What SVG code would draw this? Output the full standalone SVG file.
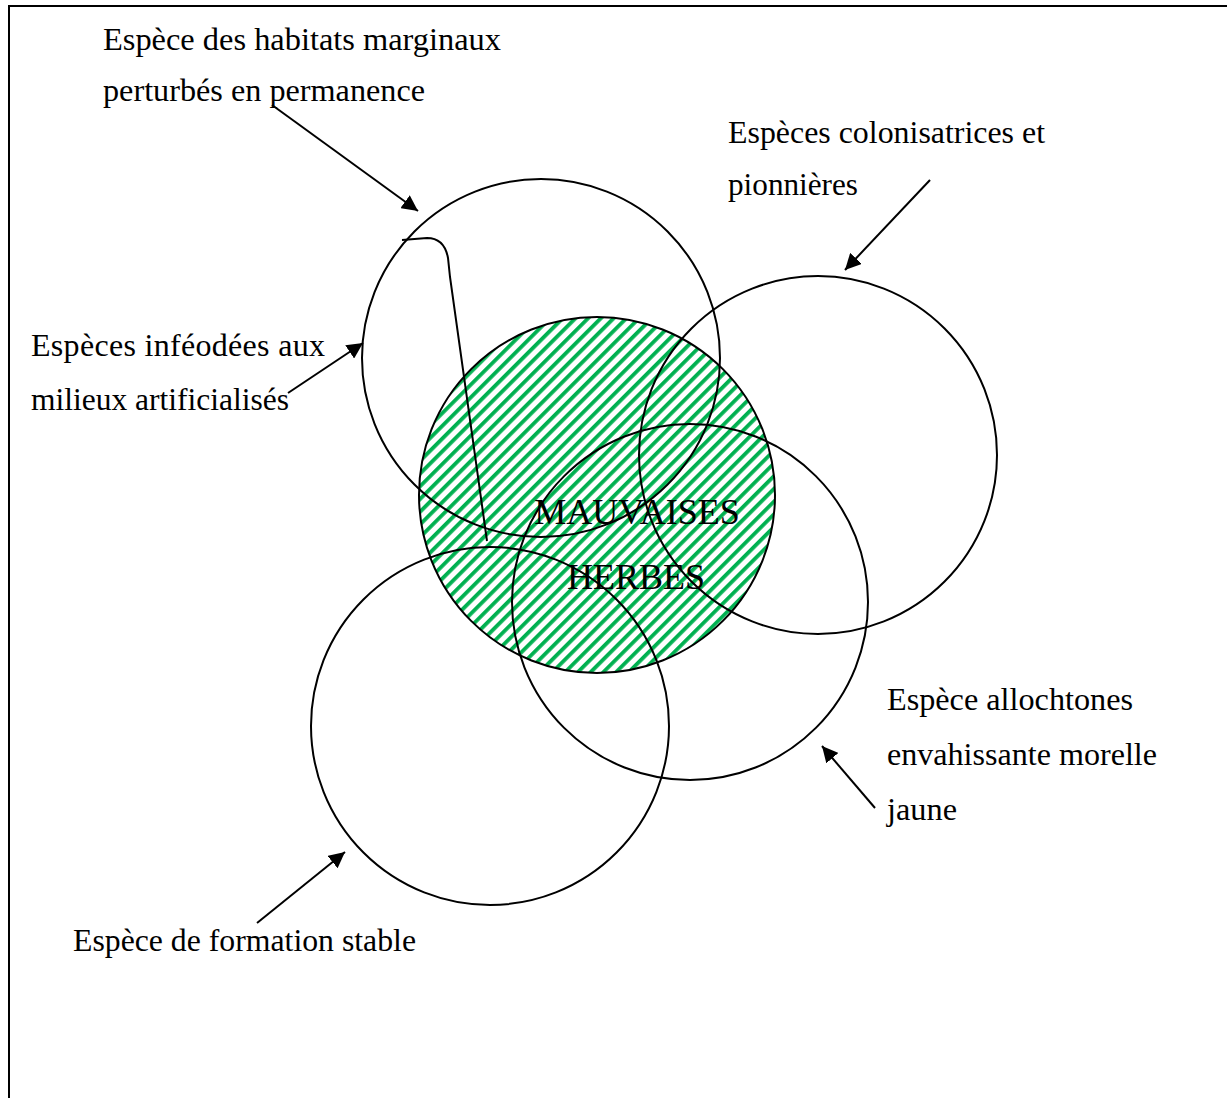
<svg xmlns="http://www.w3.org/2000/svg" width="1227" height="1098" viewBox="0 0 1227 1098">
<style>
.lbl{font-family:"Liberation Serif","Times New Roman",serif;font-size:32px;fill:#000}
.big{font-family:"Liberation Serif","Times New Roman",serif;font-size:36px;fill:#000}
.ring{fill:none;stroke:#000;stroke-width:2}
.arr{stroke:#000;stroke-width:2;fill:none;marker-end:url(#ah)}
</style>
<defs>
<marker id="ah" viewBox="0 0 10 10" refX="10" refY="5" markerWidth="16" markerHeight="16" markerUnits="userSpaceOnUse" orient="auto">
<path d="M0,0 L10,5 L0,10 z" fill="#000"/>
</marker>
<pattern id="hatch" width="9" height="9" patternUnits="userSpaceOnUse" patternTransform="rotate(-45)">
<rect width="9" height="9" fill="#fff"/>
<rect width="9" height="3.8" fill="#00b050"/>
</pattern>
</defs>
<rect width="1227" height="1098" fill="#fff"/>
<g id="frame">
<line x1="8" y1="6" x2="1227" y2="6" stroke="#000" stroke-width="2"/>
<line x1="9" y1="6" x2="9" y2="1098" stroke="#000" stroke-width="2"/>
</g>
<g id="mauvaises-herbes">
<circle cx="597" cy="495" r="178" fill="url(#hatch)" stroke="#000" stroke-width="2"/>
<text class="big" x="637" y="524" text-anchor="middle">MAUVAISES</text>
<text class="big" x="636" y="589" text-anchor="middle">HERBES</text>
</g>
<g id="habitats-marginaux">
<circle class="ring" cx="541" cy="358" r="179"/>
<path class="ring" d="M402,240 L427,238 C440,238 446,247 448,258 L450,277 L487,541"/>
</g>
<g id="colonisatrices">
<circle class="ring" cx="818" cy="455" r="179"/>
</g>
<g id="allochtones">
<circle class="ring" cx="690" cy="602" r="178"/>
</g>
<g id="formation-stable">
<circle class="ring" cx="490" cy="726" r="179"/>
</g>
<g id="labels">
<text class="lbl" x="103" y="50" textLength="398" lengthAdjust="spacingAndGlyphs">Espèce des habitats marginaux</text>
<text class="lbl" x="103" y="101" textLength="322" lengthAdjust="spacingAndGlyphs">perturbés en permanence</text>
<text class="lbl" x="728" y="143" textLength="317" lengthAdjust="spacingAndGlyphs">Espèces colonisatrices et</text>
<text class="lbl" x="728" y="195" textLength="130" lengthAdjust="spacingAndGlyphs">pionnières</text>
<text class="lbl" x="31" y="356" textLength="294" lengthAdjust="spacing">Espèces inféodées aux</text>
<text class="lbl" x="31" y="410" textLength="258" lengthAdjust="spacingAndGlyphs">milieux artificialisés</text>
<text class="lbl" x="887" y="710" textLength="246" lengthAdjust="spacingAndGlyphs">Espèce allochtones</text>
<text class="lbl" x="887" y="765" textLength="270" lengthAdjust="spacingAndGlyphs">envahissante morelle</text>
<text class="lbl" x="887" y="820" textLength="70" lengthAdjust="spacingAndGlyphs">jaune</text>
<text class="lbl" x="73" y="951" textLength="343" lengthAdjust="spacingAndGlyphs">Espèce de formation stable</text>
</g>
<g id="connectors">
<line class="arr" x1="272" y1="105" x2="418" y2="211"/>
<line class="arr" x1="930" y1="180" x2="845" y2="270"/>
<line class="arr" x1="288" y1="393" x2="363" y2="343"/>
<line class="arr" x1="875" y1="808" x2="822" y2="746"/>
<line class="arr" x1="257" y1="923" x2="345" y2="852"/>
</g>
</svg>
